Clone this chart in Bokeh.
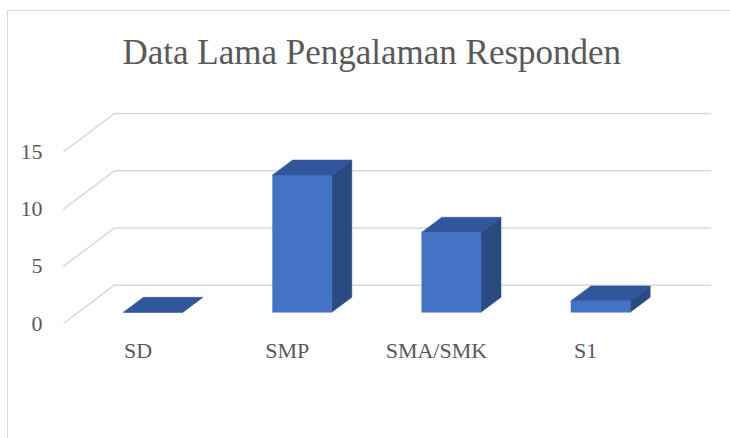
from bokeh.plotting import figure
from bokeh.models import Range1d, FixedTicker
from bokeh.embed import file_html
from bokeh.resources import INLINE

# ---- data ----
categories = ["SD", "SMP", "SMA/SMK", "S1"]
values = [0, 12, 7, 1]
y_ticks = [0, 5, 10, 15]
title_text = "Data Lama Pengalaman Responden"

# ---- geometry (pixels) ----
W, H = 730, 438
FRAME_L, FRAME_R, FRAME_T, FRAME_B = 62, 716, 100, 323
PX_PER_CAT = 149.2
PX_PER_UNIT = 11.49
WALL_DX = 51 / PX_PER_CAT
WALL_DY = 38.5 / PX_PER_UNIT
BAR_FX = 15 / PX_PER_CAT
BAR_FY = 11.3 / PX_PER_UNIT
BAR_DX = 20 / PX_PER_CAT
BAR_DY = 15 / PX_PER_UNIT
BAR_HW = 29.6 / PX_PER_CAT

FONT = "Liberation Serif"
TXT = "#595959"
GRID = "#d9d9d9"
C_FRONT, C_TOP, C_SIDE = "#4472C4", "#30569B", "#2A4A82"

x0 = -0.506
x1 = x0 + (FRAME_R - FRAME_L) / PX_PER_CAT
y1 = (FRAME_B - FRAME_T) / PX_PER_UNIT

p = figure(width=W, height=H, output_backend="svg", toolbar_location=None,
           x_range=Range1d(x0, x1), y_range=Range1d(0, y1),
           min_border_left=FRAME_L, min_border_right=W - FRAME_R,
           min_border_top=FRAME_T, min_border_bottom=H - FRAME_B,
           title=title_text)
p.outline_line_color = None
p.background_fill_color = None
p.border_fill_color = None
# chart-area border (top and left edges visible in the reference)
p.styles = {"box-shadow": "inset 7px 10px 0 0 white, inset 8px 11px 0 0 #d9d9d9",
            "background-color": "white"}
p.xgrid.visible = False
p.ygrid.visible = False

# title
p.title.text_font = FONT
p.title.text_font_size = "35px"
p.title.text_font_style = "normal"
p.title.text_color = TXT
p.title.align = "left"
p.title.offset = 60
p.title.standoff = 60

# axes
for ax in (p.xaxis[0], p.yaxis[0]):
    ax.axis_line_color = None
    ax.major_tick_line_color = None
    ax.minor_tick_line_color = None
    ax.major_tick_in = 0
    ax.major_tick_out = 0
    ax.minor_tick_in = 0
    ax.minor_tick_out = 0
    ax.major_label_text_font = FONT
    ax.major_label_text_font_size = "22px"
    ax.major_label_text_color = TXT
p.yaxis.ticker = FixedTicker(ticks=y_ticks)
p.yaxis.major_label_standoff = 20
p.xaxis.ticker = FixedTicker(ticks=list(range(len(categories))))
p.xaxis.major_label_overrides = {i: c for i, c in enumerate(categories)}
p.xaxis.major_label_standoff = 14

# perspective gridlines (left wall diagonal + back wall horizontal)
n = len(categories)
left_front = -0.5
right_back = n - 0.5 + WALL_DX
gx, gy = [], []
for v in y_ticks:
    gx.append([left_front, left_front + WALL_DX, right_back])
    gy.append([v, v + WALL_DY, v + WALL_DY])
p.multi_line(gx, gy, line_color=GRID, line_width=1.5)

# 3D bars
fl = [i + BAR_FX - BAR_HW for i in range(n)]
fr = [i + BAR_FX + BAR_HW for i in range(n)]
fb = [BAR_FY for _ in range(n)]
ft = [v + BAR_FY for v in values]

side_x = [[r, r + BAR_DX, r + BAR_DX, r] for r in fr]
side_y = [[b, b + BAR_DY, t + BAR_DY, t] for b, t in zip(fb, ft)]
top_x = [[l, l + BAR_DX, r + BAR_DX, r] for l, r in zip(fl, fr)]
top_y = [[t, t + BAR_DY, t + BAR_DY, t] for t in ft]

p.patches(side_x, side_y, fill_color=C_SIDE, line_color=C_SIDE, line_width=0.5)
p.quad(left=fl, right=fr, bottom=fb, top=ft, fill_color=C_FRONT, line_color=C_FRONT, line_width=0.5)
p.patches(top_x, top_y, fill_color=C_TOP, line_color=C_TOP, line_width=0.5)

open("out.html", "w").write(file_html(p, INLINE))
